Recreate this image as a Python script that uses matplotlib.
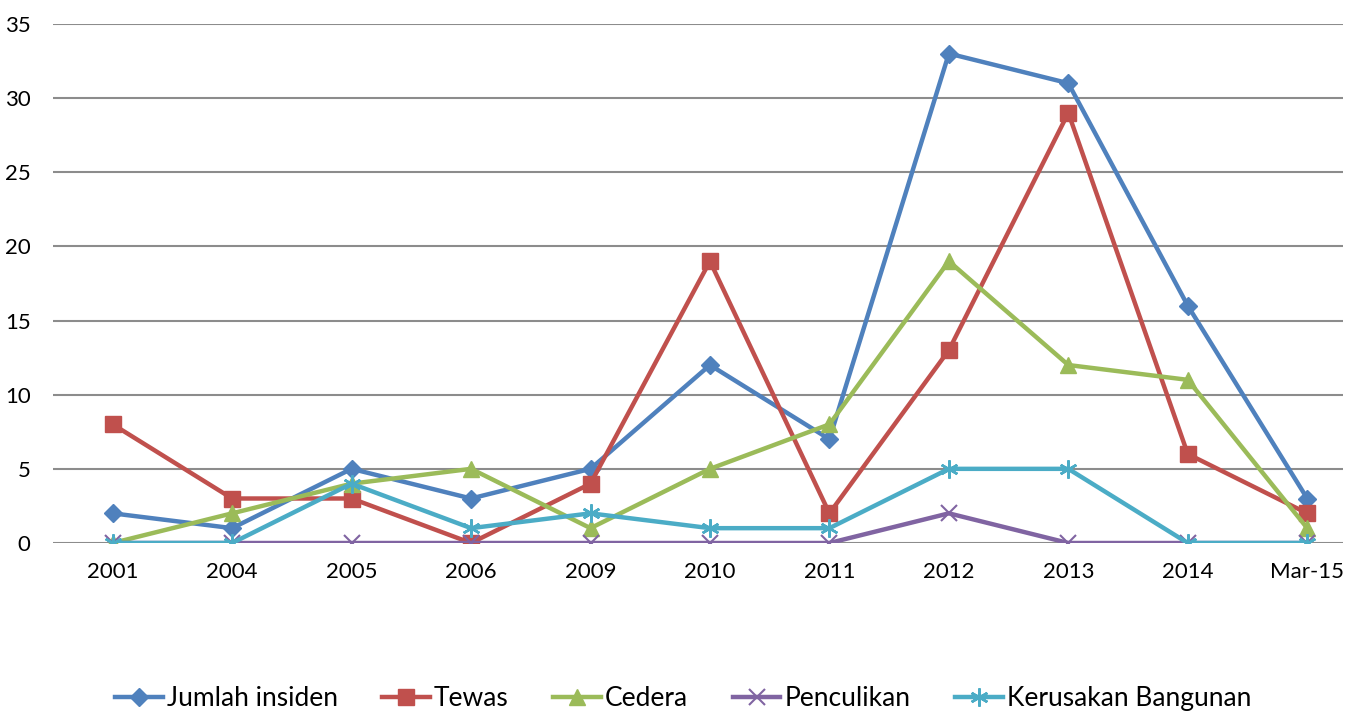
import matplotlib.pyplot as plt

plt.rcParams['font.family'] = ['Lato', 'DejaVu Sans']

years = ["2001", "2004", "2005", "2006", "2009", "2010", "2011", "2012", "2013", "2014", "Mar-15"]
jumlah = [2, 1, 5, 3, 5, 12, 7, 33, 31, 16, 3]
tewas = [8, 3, 3, 0, 4, 19, 2, 13, 29, 6, 2]
cedera = [0, 2, 4, 5, 1, 5, 8, 19, 12, 11, 1]
penculikan = [0, 0, 0, 0, 0, 0, 0, 2, 0, 0, 0]
kerusakan = [0, 0, 4, 1, 2, 1, 1, 5, 5, 0, 0]

fig = plt.figure(figsize=(13.58, 7.24), dpi=100)
ax = fig.add_axes([0.039, 0.25, 0.95, 0.717])

x = range(len(years))
lw = 3.2
ax.plot(x, jumlah, color='#4F81BD', lw=lw, marker='D', ms=9, label='Jumlah insiden')
ax.plot(x, tewas, color='#C0504D', lw=lw, marker='s', ms=11, label='Tewas')
ax.plot(x, cedera, color='#9BBB59', lw=lw, marker='^', ms=12, label='Cedera')
ax.plot(x, penculikan, color='#8064A2', lw=lw, marker='x', ms=11, mew=1.5, label='Penculikan')
ax.plot(x, kerusakan, color='#4BACC6', lw=lw, marker=(6, 2, 0), ms=13, mew=1.8, label='Kerusakan Bangunan')

ax.set_ylim(0, 35)
ax.set_xlim(-0.5, 10.3)
ax.set_yticks(range(0, 36, 5))
ax.set_xticks(list(x))
ax.set_xticklabels(years)
ax.yaxis.grid(True, color='#8c8c8c', lw=1.5)
ax.set_axisbelow(True)
for s in ax.spines.values():
    s.set_visible(False)
ax.tick_params(axis='both', length=0, labelsize=16)
ax.tick_params(axis='y', pad=16)
ax.tick_params(axis='x', pad=14)

fig.legend(loc='lower center', bbox_to_anchor=(0.503, -0.015), ncol=5, frameon=False,
           fontsize=19, handlelength=1.8, columnspacing=1.7, handletextpad=0.15)

fig.savefig('out.png', dpi=100)
